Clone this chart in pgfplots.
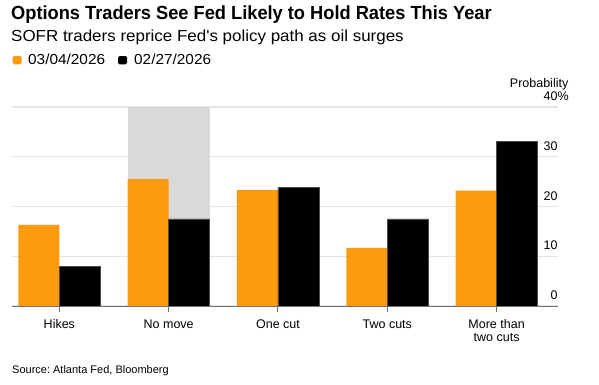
\documentclass[border=0pt]{standalone}
\usepackage{pgfplots}
\usepackage{pgfplotstable}
\pgfplotsset{compat=1.18}
\usepackage{fontspec}
\setmainfont{Liberation Sans}
\newfontfamily\titlefont{Liberation Sans}[FakeStretch=0.96]
\newfontfamily\subfont{Liberation Sans}[FakeStretch=1.06]
\newfontfamily\legfont{Liberation Sans}[FakeStretch=1.06]
\definecolor{bborange}{RGB}{253,154,14}
\definecolor{gridgray}{RGB}{228,228,228}
\definecolor{shadegray}{RGB}{217,217,217}
\definecolor{axisgray}{RGB}{112,112,112}

\pgfplotstableread{
x a b
0 16.3 8.0
1 25.5 17.5
2 23.3 23.9
3 11.7 17.5
4 23.2 33.1
}\datatable

\begin{document}
\frenchspacing
\begin{tikzpicture}[x=1pt,y=1pt]
\path[use as bounding box] (0,0) rectangle (599,384);
\begin{axis}[
  at={(11.7pt,78pt)}, anchor=south west,
  scale only axis, width=546pt, height=199pt,
  xmin=-0.436, xmax=4.559, ymin=0, ymax=40,
  ybar=0pt, bar width=41pt,
  axis x line*=bottom, axis y line*=right,
  x axis line style={draw=axisgray, line width=1pt, -},
  y axis line style={draw=none},
  xtick={0,1,2,3,4},
  xticklabels={Hikes, No move, One cut, Two cuts, More than\\two cuts},
  xticklabel style={align=center, font=\fontsize{12.5}{13}\selectfont, text=black, yshift=-4pt},
  x tick style={draw=axisgray, line width=1pt},
  xtick align=outside, major tick length=6pt,
  ytick={0,10,20,30,40},
  yticklabels={0,10,20,30,40\rlap{\%}},
  y tick style={draw=none},
  yticklabel style={anchor=south east, xshift=0pt, yshift=6pt, inner sep=0pt, font=\fontsize{12.5}{13}\selectfont},
  ymajorgrids, grid style={draw=gridgray, line width=1.1pt},
  clip=false,
]
\addplot[fill=shadegray, draw=none, bar width=82pt, bar shift=0pt, forget plot] coordinates {(1,40)};
\addplot[fill=bborange, draw=none, bar shift=-20.5pt] table[x=x,y=a]{\datatable};
\addplot[fill=black, draw=black!70, line width=0.8pt, bar shift=20.5pt] table[x=x,y=b]{\datatable};
\draw[axisgray, line width=1pt] (rel axis cs:0,0) -- (rel axis cs:1,0);
\end{axis}
% titles
\node[anchor=base west, inner sep=0pt] at (11,364) {\titlefont\bfseries\fontsize{19}{20}\selectfont Options Traders See Fed Likely to Hold Rates This Year};
\node[anchor=base west, inner sep=0pt] at (11,342.3) {\subfont\fontsize{16}{17}\selectfont SOFR traders reprice Fed\char"0027 s policy path as oil surges};
% legend
\fill[bborange, rounded corners=1.5pt] (12.7,319.7) rectangle (21.7,328);
\node[anchor=base west, inner sep=0pt] at (28,319.7) {\legfont\fontsize{14.5}{15}\selectfont 03/04/2026};
\fill[black, rounded corners=1.5pt] (118,319.7) rectangle (127,328);
\node[anchor=base west, inner sep=0pt] at (134,319.7) {\legfont\fontsize{14.5}{15}\selectfont 02/27/2026};
% y label
\node[anchor=base east, inner sep=0pt] at (568.5,296.7) {\fontsize{12.5}{13}\selectfont Probability};
% source
\node[anchor=base west, inner sep=0pt] at (12,10.5) {\fontsize{11}{12}\selectfont Source: Atlanta Fed, Bloomberg};
\end{tikzpicture}
\end{document}
